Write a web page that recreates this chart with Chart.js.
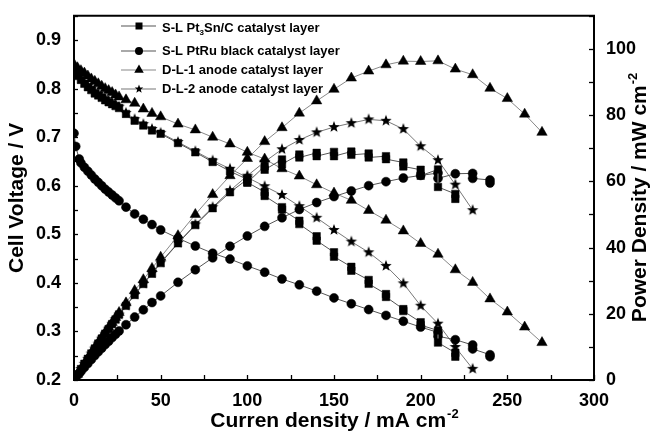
<!DOCTYPE html>
<html><head><meta charset="utf-8">
<script src="https://cdn.jsdelivr.net/npm/chart.js@4.4.0/dist/chart.umd.min.js"></script>
<style>html,body{margin:0;padding:0;background:#fff}</style>
</head><body>
<canvas id="c" width="655" height="436" style="width:655px;height:436px;display:block"></canvas>
<script>
// ---- Data (current density mA cm-2, cell voltage V, power density mW cm-2) ----
const seriesNames = ['S-L Pt3Sn/C catalyst layer','S-L PtRu black catalyst layer','D-L-1 anode catalyst layer','D-L-2 anode catalyst layer'];
const xTicks = [0,50,100,150,200,250,300];
const yTicks = [0.2,0.3,0.4,0.5,0.6,0.7,0.8,0.9];
const y2Ticks = [0,20,40,60,80,100];

const cur1 = [0,2,4,6,8,10,12,14,16,18,20,22,24,26,30,35,40,45,50,60,70,80,90,100,100,110,110,120,120,130,130,140,140,150,150,160,160,170,170,180,180,190,190,200,200,210,210,220,220];
const volt1 = [0.835,0.826,0.818,0.810,0.803,0.797,0.790,0.786,0.781,0.776,0.772,0.768,0.764,0.760,0.748,0.734,0.724,0.714,0.707,0.688,0.669,0.649,0.630,0.613,0.607,0.587,0.579,0.556,0.551,0.528,0.521,0.496,0.487,0.463,0.454,0.433,0.425,0.406,0.398,0.377,0.371,0.346,0.342,0.319,0.313,0.302,0.277,0.256,0.248];
const pow1 = [0,1.7,3.3,4.9,6.4,8.0,9.5,11.0,12.5,14.0,15.4,16.9,18.3,19.8,22.4,25.7,29.0,32.1,35.3,41.3,46.8,51.9,56.7,60.6,59.6,64.6,63.5,66.6,65.2,68.1,67.2,68.6,67.6,68.9,67.6,69.0,68.0,68.4,67.2,67.6,66.7,65.7,64.5,63.5,61.7,63.6,58.3,56.2,54.7];

const cur2 = [0,1,3,4,6,8,10,12,14,16,18,20,22,24,26,30,35,40,45,50,60,70,80,90,100,110,120,130,140,150,160,170,180,190,200,210,210,220,230,230,240,240];
const volt2 = [0.708,0.681,0.655,0.647,0.638,0.630,0.622,0.614,0.607,0.600,0.593,0.587,0.581,0.575,0.569,0.556,0.542,0.531,0.520,0.509,0.492,0.476,0.461,0.449,0.435,0.422,0.408,0.396,0.383,0.369,0.357,0.345,0.333,0.321,0.309,0.298,0.290,0.283,0.272,0.264,0.252,0.248];
const pow2 = [0,0.7,2.0,2.6,3.8,5.0,6.2,7.4,8.5,9.6,10.7,11.7,12.8,13.8,14.8,16.7,19.0,21.2,23.4,25.4,29.5,33.3,36.9,40.4,43.5,46.4,49.0,51.5,53.6,55.4,57.1,58.7,59.9,61.0,61.8,62.5,60.9,62.3,62.4,60.9,60.4,59.5];

const cur3 = [0,2,4,6,8,10,12,14,16,18,20,22,24,26,30,35,40,45,50,60,70,80,90,100,110,120,130,140,150,160,170,180,190,200,210,220,230,240,250,260,270];
const volt3 = [0.850,0.843,0.837,0.832,0.826,0.820,0.815,0.810,0.805,0.800,0.796,0.792,0.787,0.783,0.777,0.770,0.758,0.749,0.742,0.727,0.715,0.700,0.686,0.669,0.655,0.635,0.620,0.602,0.585,0.570,0.549,0.529,0.507,0.481,0.459,0.427,0.401,0.367,0.340,0.309,0.277];
const pow3 = [0,1.7,3.3,5.0,6.6,8.2,9.8,11.3,12.9,14.4,15.9,17.4,18.9,20.4,23.3,27.0,30.3,33.7,37.1,43.6,50.0,56.0,61.7,66.9,72.0,76.2,80.6,84.3,87.8,91.2,93.3,95.2,96.3,96.2,96.4,93.9,92.2,88.1,85.0,80.3,74.8];

const cur4 = [0,2,4,6,8,10,12,14,16,18,20,22,24,26,30,35,40,45,50,60,70,80,90,100,110,120,130,140,150,160,170,180,190,200,210,220,230];
const volt4 = [0.838,0.829,0.821,0.813,0.806,0.800,0.794,0.789,0.784,0.779,0.775,0.771,0.767,0.763,0.750,0.737,0.727,0.717,0.709,0.690,0.671,0.652,0.635,0.617,0.599,0.581,0.558,0.534,0.509,0.485,0.463,0.435,0.399,0.353,0.316,0.268,0.223];
const pow4 = [0,1.7,3.3,4.9,6.4,8.0,9.5,11.0,12.5,14.0,15.5,17.0,18.4,19.8,22.5,25.8,29.1,32.3,35.5,41.4,47.0,52.2,57.2,61.7,65.9,69.7,72.5,74.8,76.4,77.6,78.7,78.3,75.8,70.6,66.4,59.0,51.3];

// ---- styling ----
const FONT = "'Liberation Sans', Arial, Helvetica, sans-serif";
const lineCols = ['#555','#555','#888','#777'];

function drawStar(g, cx, cy, r){
  g.fillStyle = '#000'; g.beginPath();
  for(let i=0;i<10;i++){
    const a = -Math.PI/2 + i*Math.PI/5, rr = i%2 ? r*0.42 : r;
    g.lineTo(cx+rr*Math.cos(a), cy+rr*Math.sin(a));
  }
  g.closePath(); g.fill();
}
function starCanvas(r){
  const s = Math.ceil(r*2+2), c = document.createElement('canvas');
  c.width = c.height = s;
  drawStar(c.getContext('2d'), s/2, s/2, r);
  return c;
}
const star = starCanvas(6);
const markers = [
  {style:'rect', r:5.3},
  {style:'circle', r:4.5},
  {style:'triangle', r:6},
  {style:star, r:6}
];

function pts(xs, ys){ return xs.map((x,i)=>({x, y: ys[i]})); }
const curs = [cur1,cur2,cur3,cur4], volts=[volt1,volt2,volt3,volt4], pows=[pow1,pow2,pow3,pow4];
const datasets = [];
for(let k=0;k<4;k++){
  for(const [arr, axis] of [[volts[k],'y'],[pows[k],'y2']]){
    datasets.push({
      label: seriesNames[k], data: pts(curs[k], arr), yAxisID: axis,
      borderColor: lineCols[k], borderWidth: 1, tension: 0, fill: false,
      pointStyle: markers[k].style, pointRadius: markers[k].r,
      pointBackgroundColor: '#000', pointBorderColor: '#000', pointBorderWidth: 0.5
    });
  }
}

// ---- plugins: frame, inward ticks, titles, legend ----
const decor = {
  id: 'decor',
  afterDraw(chart){
    const {ctx, chartArea:a, scales} = chart;
    ctx.save();
    ctx.strokeStyle = '#000'; ctx.lineWidth = 2;
    ctx.beginPath(); ctx.moveTo(a.left-1, a.top); ctx.lineTo(a.right+1, a.top); ctx.stroke();
    ctx.lineWidth = 1.3;
    const tk = (scale, step, len, dir) => {
      const n = Math.round((scale.max - scale.min)/step);
      for(let i=0;i<=n;i++){
        const v = scale.min + i*step;
        const p = Math.round(scale.getPixelForValue(v)) + 0.5;
        ctx.beginPath();
        if(dir==='b'){ ctx.moveTo(p, a.bottom); ctx.lineTo(p, a.bottom-len); }
        else if(dir==='l'){ ctx.moveTo(a.left, p); ctx.lineTo(a.left+len, p); }
        else { ctx.moveTo(a.right, p); ctx.lineTo(a.right-len, p); }
        ctx.stroke();
      }
    };
    tk(scales.x, 25, 5, 'b');
    tk(scales.y, 0.05, 4, 'l');
    tk(scales.y2, 10, 5, 'r');

    ctx.fillStyle = '#000';
    ctx.save();
    ctx.translate(17, (a.top+a.bottom)/2); ctx.rotate(-Math.PI/2);
    ctx.font = `bold 21px ${FONT}`; ctx.textAlign='center'; ctx.textBaseline='middle';
    ctx.fillText('Cell Voltage / V', 0, 0);
    ctx.restore();
    const supText = (main, sup, cx, cy) => {
      ctx.font = `bold 21px ${FONT}`;
      const w1 = ctx.measureText(main).width;
      ctx.font = `bold 13px ${FONT}`;
      const w2 = ctx.measureText(sup).width;
      const x0 = cx - (w1+w2)/2;
      ctx.textAlign='left'; ctx.textBaseline='alphabetic';
      ctx.font = `bold 21px ${FONT}`; ctx.fillText(main, x0, cy);
      ctx.font = `bold 13px ${FONT}`; ctx.fillText(sup, x0+w1+1, cy-9);
    };
    supText('Curren density / mA cm', '-2', (a.left+a.right)/2, 427);
    ctx.save();
    ctx.translate(646, (a.top+a.bottom)/2); ctx.rotate(-Math.PI/2);
    supText('Power Density / mW cm', '-2', 0, 0);
    ctx.restore();

    // legend
    const rows = [26, 51, 70, 89];
    for(let k=0;k<4;k++){
      const y = rows[k];
      ctx.strokeStyle = lineCols[k]; ctx.lineWidth = 1.2;
      ctx.beginPath(); ctx.moveTo(121, y); ctx.lineTo(156, y); ctx.stroke();
      ctx.fillStyle = '#000';
      const mx = 139;
      if(k===0){ ctx.fillRect(mx-3.5, y-3.5, 7, 7); }
      else if(k===1){ ctx.beginPath(); ctx.arc(mx, y, 4, 0, Math.PI*2); ctx.fill(); }
      else if(k===2){ const r=5.5; ctx.beginPath(); ctx.moveTo(mx, y-r); ctx.lineTo(mx+r*0.866, y+r/2); ctx.lineTo(mx-r*0.866, y+r/2); ctx.closePath(); ctx.fill(); }
      else { drawStar(ctx, mx, y, 4.5); }
      ctx.textAlign='left'; ctx.textBaseline='middle';
      const ty = k===0 ? 28 : y;
      if(k===0){
        ctx.font = `bold 13px ${FONT}`;
        let x = 162;
        ctx.fillText('S-L Pt', x, ty); x += ctx.measureText('S-L Pt').width;
        ctx.font = `bold 8px ${FONT}`;
        ctx.fillText('3', x, ty+5); x += ctx.measureText('3').width;
        ctx.font = `bold 13px ${FONT}`;
        ctx.fillText('Sn/C catalyst layer', x, ty);
      } else {
        ctx.font = `bold 13px ${FONT}`;
        ctx.fillText(seriesNames[k], 162, ty);
      }
    }
    ctx.restore();
  }
};

const tickFont = {family: FONT, size: 18, weight: 'bold'};
new Chart(document.getElementById('c'), {
  type: 'line',
  data: { datasets },
  options: {
    responsive: false, animation: false, devicePixelRatio: 1,
    layout: { padding: { top: 14, left: 0, right: 0, bottom: 0 } },
    plugins: { legend: { display: false }, tooltip: { enabled: false } },
    scales: {
      x: {
        type: 'linear', min: 0, max: 300,
        afterBuildTicks: s => { s.ticks = xTicks.map(v => ({value: v})); },
        ticks: { font: tickFont, color: '#000', padding: 2, maxRotation: 0 },
        grid: { display: false }, border: { color: '#000', width: 2 },
        afterFit: s => { s.height = 56; }
      },
      y: {
        type: 'linear', position: 'left', min: 0.2, max: 0.95,
        afterBuildTicks: s => { s.ticks = yTicks.map(v => ({value: v})); },
        ticks: { font: tickFont, color: '#000', padding: 5, callback: v => v.toFixed(1) },
        grid: { display: false }, border: { color: '#000', width: 2 },
        afterFit: s => { s.width = 74; }
      },
      y2: {
        type: 'linear', position: 'right', min: 0, max: 110,
        afterBuildTicks: s => { s.ticks = y2Ticks.map(v => ({value: v})); },
        ticks: { font: tickFont, color: '#000', padding: 4 },
        grid: { display: false }, border: { color: '#000', width: 2 },
        afterFit: s => { s.width = 61; }
      }
    }
  },
  plugins: [decor]
});
</script>
</body></html>
